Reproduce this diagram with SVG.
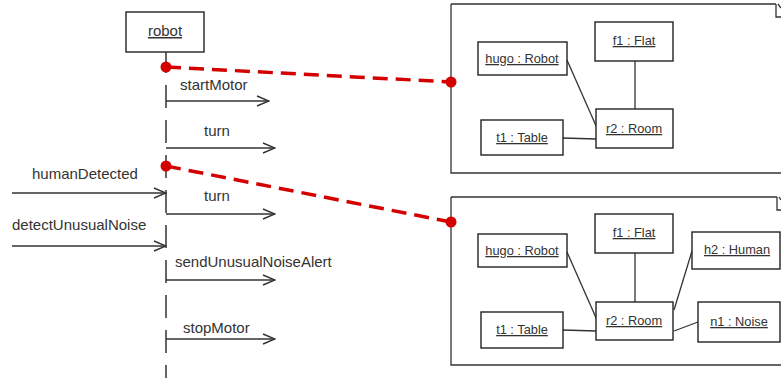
<svg xmlns="http://www.w3.org/2000/svg" width="781" height="378" viewBox="0 0 781 378">
<defs>
<style>
.t{font-family:"Liberation Sans",Arial,sans-serif;font-size:15px;fill:#333}
.n{font-family:"Liberation Sans",Arial,sans-serif;font-size:12.8px;fill:#333;text-anchor:middle;text-decoration:underline}
.box{fill:#fff;stroke:#222;stroke-width:1.4}
.ln{fill:none;stroke:#333;stroke-width:1.3}
.msg{fill:none;stroke:#333;stroke-width:1.4;marker-end:url(#open)}
.red{fill:none;stroke:#d40000;stroke-width:3.5;stroke-dasharray:15 8}
.dot{fill:#d40000}
</style>
<marker id="open" viewBox="0 0 14 12" refX="13" refY="6" markerWidth="14" markerHeight="12" markerUnits="userSpaceOnUse" orient="auto">
<path d="M1,1 L13,6 L1,11" fill="none" stroke="#333" stroke-width="1.4"/>
</marker>
</defs>
<rect width="781" height="378" fill="#fff"/>

<g id="robot">
<rect class="box" x="126" y="12" width="78" height="40"/>
<text class="t" x="165" y="36" text-anchor="middle" text-decoration="underline">robot</text>
<line x1="166" y1="52" x2="166" y2="378" stroke="#333" stroke-width="1.5" stroke-dasharray="21 12 23 12 23 12 23 12 23 12 23 12 23 12 23 12 23 12 23 12"/>
</g>

<g id="frame1">
<path class="ln" d="M451,4 H776 M451,4 V173 H781" stroke-width="1.5"/>
<path class="ln" d="M776,4 V17 H781 M778,4 L781,8"/>
</g>
<g id="frame2">
<path class="ln" d="M451,197 H777 M451,197 V365 H781" stroke-width="1.5"/>
<path class="ln" d="M777,197 V210 H781 M779,197 L781,200"/>
</g>

<g id="connectors">
<line class="msg" x1="166" y1="101" x2="269" y2="101"/>
<line class="msg" x1="166" y1="148" x2="275" y2="148"/>
<line class="msg" x1="12" y1="193" x2="166" y2="193"/>
<line class="msg" x1="166" y1="214" x2="275" y2="214"/>
<line class="msg" x1="12" y1="246" x2="166" y2="246"/>
<line class="msg" x1="166" y1="280" x2="275" y2="280"/>
<line class="msg" x1="166" y1="339" x2="275" y2="339"/>
<line class="red" x1="166" y1="67" x2="451" y2="82"/>
<line class="red" x1="166" y1="166" x2="451" y2="222"/>
<circle class="dot" cx="166" cy="67" r="5.5"/>
<circle class="dot" cx="166" cy="166" r="5.5"/>
<circle class="dot" cx="451" cy="82" r="5.5"/>
<circle class="dot" cx="451" cy="222" r="5.5"/>
<line class="ln" x1="567" y1="60" x2="597" y2="128"/>
<line class="ln" x1="635" y1="61" x2="635" y2="109"/>
<line class="ln" x1="563" y1="138" x2="596" y2="139"/>
<line class="ln" x1="567" y1="252" x2="597" y2="320"/>
<line class="ln" x1="635" y1="253" x2="635" y2="302"/>
<line class="ln" x1="563" y1="330" x2="596" y2="331"/>
<line class="ln" x1="692" y1="251" x2="674" y2="310"/>
<line class="ln" x1="674" y1="331" x2="698" y2="322"/>
</g>

<g id="labels">
<text class="t" x="180" y="90">startMotor</text>
<text class="t" x="204" y="136">turn</text>
<text class="t" x="32" y="179">humanDetected</text>
<text class="t" x="204" y="201">turn</text>
<text class="t" x="12" y="230">detectUnusualNoise</text>
<text class="t" x="175" y="267">sendUnusualNoiseAlert</text>
<text class="t" x="183" y="333">stopMotor</text>
</g>

<g id="hugo1"><rect class="box" x="478" y="42" width="89" height="33"/><text class="n" x="522" y="63">hugo : Robot</text></g>
<g id="f1a"><rect class="box" x="595" y="22" width="78" height="39"/><text class="n" x="634" y="45">f1 : Flat</text></g>
<g id="r2a"><rect class="box" x="596" y="109" width="77" height="39"/><text class="n" x="634" y="133">r2 : Room</text></g>
<g id="t1a"><rect class="box" x="481" y="120" width="82" height="35"/><text class="n" x="522" y="142">t1 : Table</text></g>

<g id="hugo2"><rect class="box" x="478" y="234" width="89" height="33"/><text class="n" x="522" y="255">hugo : Robot</text></g>
<g id="f1b"><rect class="box" x="595" y="214" width="78" height="39"/><text class="n" x="634" y="237">f1 : Flat</text></g>
<g id="r2b"><rect class="box" x="596" y="302" width="77" height="38"/><text class="n" x="634" y="325">r2 : Room</text></g>
<g id="t1b"><rect class="box" x="481" y="312" width="82" height="36"/><text class="n" x="522" y="334">t1 : Table</text></g>
<g id="h2"><rect class="box" x="692" y="232" width="88" height="37"/><text class="n" x="737" y="254">h2 : Human</text></g>
<g id="n1"><rect class="box" x="698" y="302" width="82" height="40"/><text class="n" x="739" y="326">n1 : Noise</text></g>
</svg>
